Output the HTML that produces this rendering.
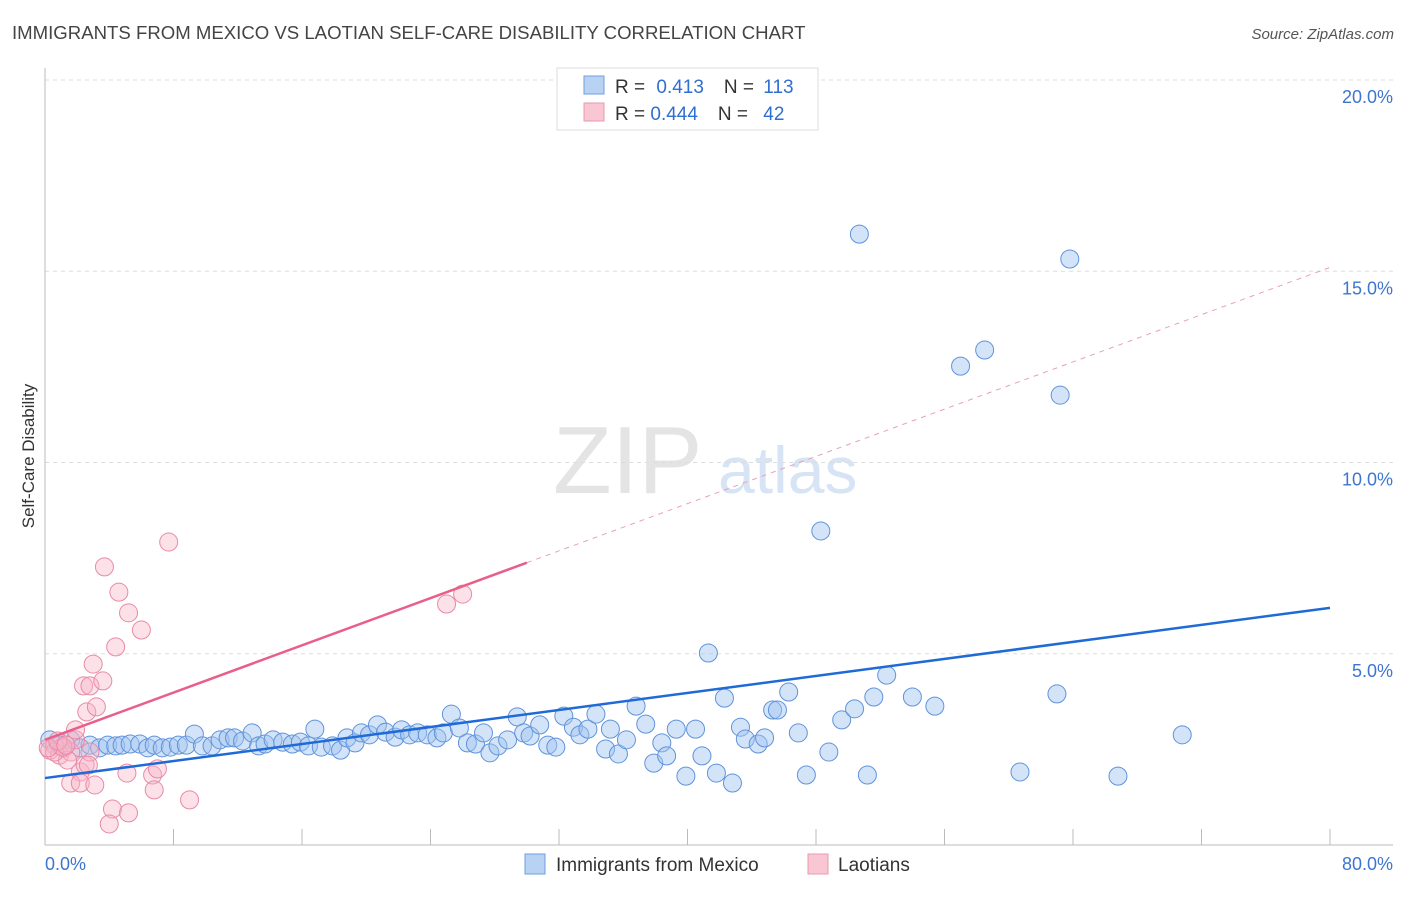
<!DOCTYPE html>
<html><head><meta charset="utf-8"><style>
body{margin:0;background:#fff;font-family:"Liberation Sans",sans-serif}
svg text{font-family:"Liberation Sans",sans-serif}
</style></head><body>
<svg id="c" width="1406" height="892">
<text x="12" y="39" font-size="18.6" fill="#444">IMMIGRANTS FROM MEXICO VS LAOTIAN SELF-CARE DISABILITY CORRELATION CHART</text>
<text x="1394" y="39" font-size="15" fill="#555" font-style="italic" text-anchor="end">Source: ZipAtlas.com</text>
<text x="553" y="493" font-size="96" fill="#e4e4e4" font-family="Liberation Serif">ZIP</text>
<text x="718" y="493" font-size="66" fill="#d6e4f5">atlas</text>
<text transform="translate(34,456) rotate(-90)" font-size="17" fill="#333" text-anchor="middle">Self-Care Disability</text>
<g id="grid"></g><g id="pts"></g><g id="lines"></g>
<g>
<rect x="557" y="68" width="261" height="62" fill="#fff" stroke="#ddd"/>
<rect x="584" y="76" width="20" height="18" fill="#b8d2f4" stroke="#6f9ee0"/>
<rect x="584" y="103" width="20" height="18" fill="#f9c6d4" stroke="#ea98b0"/>
<text x="615" y="93" font-size="19" fill="#333">R = <tspan fill="#2f6fd0" dx="6">0.413</tspan><tspan dx="20" fill="#333">N = </tspan><tspan fill="#2f6fd0" dx="4">113</tspan></text>
<text x="615" y="120" font-size="19" fill="#333">R = <tspan fill="#2f6fd0">0.444</tspan><tspan dx="20" fill="#333">N = </tspan><tspan fill="#2f6fd0" dx="10">42</tspan></text>
</g>
<g>
<rect x="525" y="854" width="20" height="20" fill="#b8d2f4" stroke="#6f9ee0"/>
<text x="556" y="871" font-size="19" fill="#333">Immigrants from Mexico</text>
<rect x="808" y="854" width="20" height="20" fill="#f9c6d4" stroke="#ea98b0"/>
<text x="838" y="871" font-size="19" fill="#333">Laotians</text>
</g>
</svg>
<script>
const bx=[0.3,0.9,1.6,2.2,2.8,3.4,3.9,4.4,4.8,5.3,5.9,6.4,6.8,7.3,7.8,8.3,8.8,9.3,9.8,10.4,10.9,11.4,11.8,12.3,12.9,13.3,13.7,14.2,14.8,15.4,15.9,16.4,16.8,17.2,17.9,18.4,18.8,19.3,19.7,20.2,20.7,21.2,21.8,22.2,22.7,23.2,23.8,24.4,24.8,25.3,25.8,26.3,26.8,27.3,27.7,28.2,28.8,29.4,29.8,30.2,30.8,31.3,31.8,32.3,32.9,33.3,33.8,34.3,34.9,35.2,35.7,36.2,36.8,37.4,37.9,38.4,38.7,39.3,39.9,40.5,40.9,41.3,41.8,42.3,42.8,43.3,43.6,44.4,44.8,45.3,45.6,46.3,46.9,47.4,48.3,48.8,49.6,50.4,50.7,51.2,51.6,52.4,54.0,55.4,57.0,58.5,60.7,63.0,63.2,63.8,66.8,70.8];
const by=[2.75,2.61,2.75,2.54,2.61,2.54,2.61,2.59,2.61,2.64,2.64,2.54,2.61,2.54,2.56,2.61,2.61,2.9,2.59,2.59,2.75,2.8,2.8,2.72,2.93,2.59,2.64,2.75,2.69,2.64,2.69,2.59,3.03,2.56,2.59,2.48,2.8,2.67,2.93,2.88,3.14,2.95,2.82,3.01,2.88,2.93,2.88,2.8,2.93,3.42,3.06,2.67,2.64,2.93,2.41,2.59,2.75,3.35,2.93,2.85,3.14,2.61,2.56,3.37,3.08,2.88,3.03,3.42,2.51,3.03,2.38,2.75,3.63,3.16,2.14,2.67,2.33,3.03,1.8,3.03,2.33,5.02,1.88,3.84,1.62,3.08,2.77,2.64,2.8,3.53,3.53,4.0,2.93,1.83,8.21,2.43,3.27,3.56,15.97,1.83,3.87,4.44,3.87,3.63,12.52,12.94,1.91,3.95,11.76,15.32,1.8,2.88];
const px=[0.3,0.6,0.9,1.2,1.6,1.9,1.4,1.9,2.2,2.5,2.8,1.6,2.2,2.7,3.1,2.4,2.8,2.6,3.2,3.0,3.6,4.4,3.7,4.6,5.2,6.0,7.7,5.1,6.7,7.0,6.8,4.2,5.2,4.0,9.0,25.0,26.0,0.6,1.1,0.2,0.8,1.3];
const py=[2.48,2.61,2.35,2.54,2.43,2.75,2.22,3.01,1.91,2.09,2.43,1.62,1.62,2.09,1.57,4.16,4.16,3.48,3.61,4.73,4.29,5.18,7.27,6.61,6.07,5.62,7.92,1.88,1.83,1.99,1.44,0.94,0.84,0.55,1.18,6.30,6.56,2.43,2.56,2.54,2.72,2.61];
const yTicks=[5,10,15,20];
const yLabels=["5.0%","10.0%","15.0%","20.0%"];
const xTicks=[0,8,16,24,32,40,48,56,64,72,80];
const blueTrend=[1.75,6.2];
const pinkTrend=[2.75,15.1];
const pinkSolidEnd=30;
const X=v=>45+v*1285/80, Y=v=>845-v*38.25;
const NS="http://www.w3.org/2000/svg";
function mk(t,a,p){const e=document.createElementNS(NS,t);for(const k in a)e.setAttribute(k,a[k]);p.appendChild(e);return e;}
const g=document.getElementById('grid');
yTicks.forEach((t,i)=>{
 const l=mk('line',{x1:45,x2:1393,y1:Y(t),y2:Y(t),stroke:'#ddd','stroke-dasharray':'4,4'},g);
 
 
 const tx=mk('text',{x:1393,y:Y(t)+23,'font-size':18,fill:'#3d75d0','text-anchor':'end'},g);
 tx.textContent=yLabels[i];
 
 
});
const ax=mk('line',{x1:45,x2:45,y1:68,y2:845,stroke:'#bbb'},g);


const bxl=mk('line',{x1:45,x2:1393,y1:845,y2:845,stroke:'#bbb'},g);


xTicks.forEach(t=>{
 const l=mk('line',{x1:X(t),x2:X(t),y1:829,y2:845,stroke:'#bbb'},g);
 
 
});
const t0=mk('text',{x:45,y:870,'font-size':18,fill:'#3d75d0'},g);t0.textContent='0.0%';


const t1=mk('text',{x:1393,y:870,'font-size':18,fill:'#3d75d0','text-anchor':'end'},g);t1.textContent='80.0%';


const P=document.getElementById('pts');
bx.forEach((v,i)=>{
 const c=mk('circle',{cx:X(v),cy:Y(by[i]),r:9,fill:'rgba(160,196,240,0.45)',stroke:'#5f93db','stroke-width':1},P);
 
 
});
px.forEach((v,i)=>{
 const c=mk('circle',{cx:X(v),cy:Y(py[i]),r:9,fill:'rgba(248,180,200,0.4)',stroke:'#e88aa6','stroke-width':1},P);
 
 
});
const L=document.getElementById('lines');
const pe=pinkTrend[0]+(pinkTrend[1]-pinkTrend[0])*pinkSolidEnd/80;
const l1=mk('line',{x1:X(0),y1:Y(blueTrend[0]),x2:X(80),y2:Y(blueTrend[1]),stroke:'#1f6ad6','stroke-width':2.5},L);


const l2=mk('line',{x1:X(0),y1:Y(pinkTrend[0]),x2:X(pinkSolidEnd),y2:Y(pe),stroke:'#e8608a','stroke-width':2.5},L);


const l3=mk('line',{x1:X(pinkSolidEnd),y1:Y(pe),x2:X(80),y2:Y(pinkTrend[1]),stroke:'#e8a0b5','stroke-width':1,'stroke-dasharray':'5,5'},L);


</script>
</body></html>
